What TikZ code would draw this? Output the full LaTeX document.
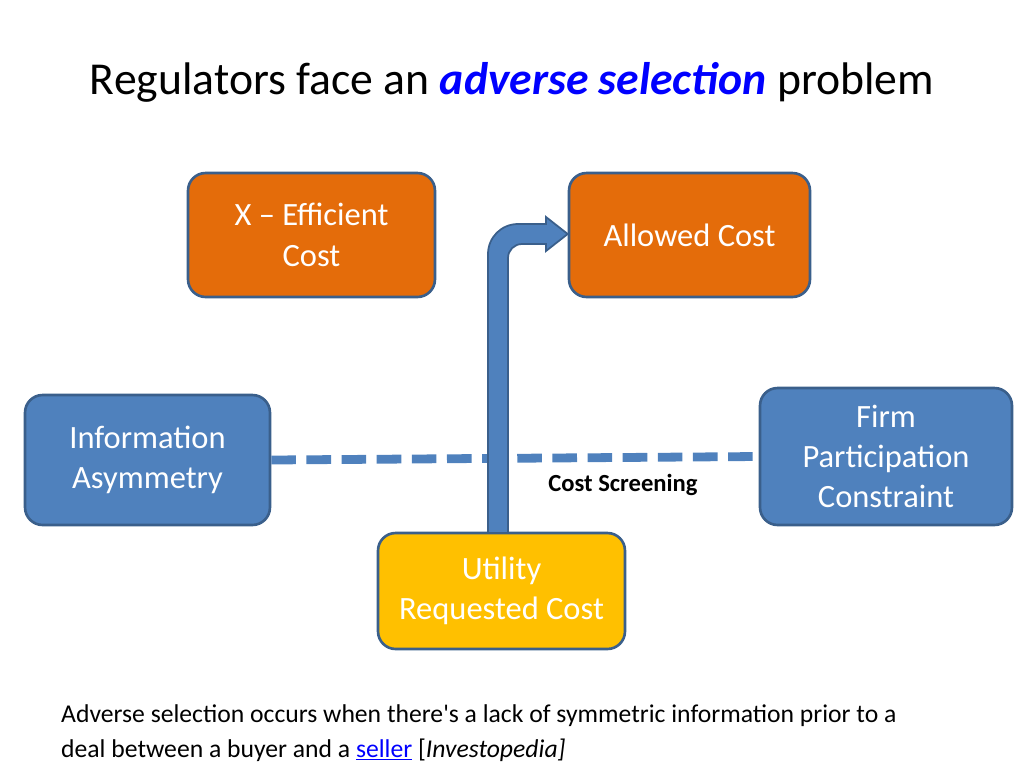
\documentclass[tikz,border=0pt]{standalone}
\usepackage{fontspec}
\setmainfont{Carlito}[Ligatures=TeXOff]
\usepackage{xcolor}
\usetikzlibrary{positioning}
\definecolor{boxorange}{HTML}{E46C0A}
\definecolor{boxblue}{HTML}{4F81BD}
\definecolor{boxyellow}{HTML}{FFC000}
\definecolor{boxline}{HTML}{3A5F8B}
\definecolor{linkblue}{HTML}{0000FF}
\begin{document}
\begin{tikzpicture}[x=0.02cm,y=-0.02cm]
\tikzset{box/.style={draw=boxline, line width=1.5pt, rounded corners=10pt, text=white, align=center, font=\fontsize{18.5}{23}\selectfont, inner sep=0pt}}
\useasboundingbox (0,0) rectangle (1024,768);

\node[font=\fontsize{26}{31}\selectfont] (title) at (512,82) {Regulators face an \textcolor{linkblue}{\textbf{\textit{adverse selection}}} problem};

\node[box, fill=boxorange, minimum width=4.94cm, minimum height=2.48cm] (xeff) at (311.5,235) {X – Efficient\\Cost};
\node[box, fill=boxorange, minimum width=4.82cm, minimum height=2.48cm] (allowed) at (689.5,235) {Allowed Cost};
\node[box, fill=boxblue, minimum width=4.9cm, minimum height=2.6cm] (info) at (147.5,460) {Information\\Asymmetry};
\node[box, fill=boxblue, minimum width=5.04cm, minimum height=2.74cm] (firm) at (886,456.5) {Firm\\Participation\\Constraint};
\node[box, fill=boxyellow, minimum width=4.94cm, minimum height=2.32cm] (util) at (501.5,591) {Utility\\Requested Cost};

% dashed link
\draw[boxblue, line width=5pt, dash pattern=on 14pt off 6pt] (info.east) -- (firm.west);
\node[font=\fontsize{14}{17}\selectfont\bfseries] (screen) at (623,485) {Cost Screening};

% bent arrow
\coordinate (a1) at (488,533);
\coordinate (a2) at (508,533);
\draw[boxline, line width=1pt, fill=boxblue]
  (a1) -- (488,254) to[out=90,in=180] (518,224) -- (546,224) -- (546,217)
  -- (allowed.west |- 0,234) -- (546,251) -- (546,244) -- (522,244)
  to[out=180,in=90] (508,258) -- (a2) -- cycle;

\node[anchor=north west, align=left, font=\fontsize{14.6}{20}\selectfont] (note) at (55,698)
  {Adverse selection occurs when there's a lack of symmetric information prior to a\\
   deal between a buyer and a \textcolor{linkblue}{\underline{seller}} [\textit{Investopedia]}};
\end{tikzpicture}
\end{document}
